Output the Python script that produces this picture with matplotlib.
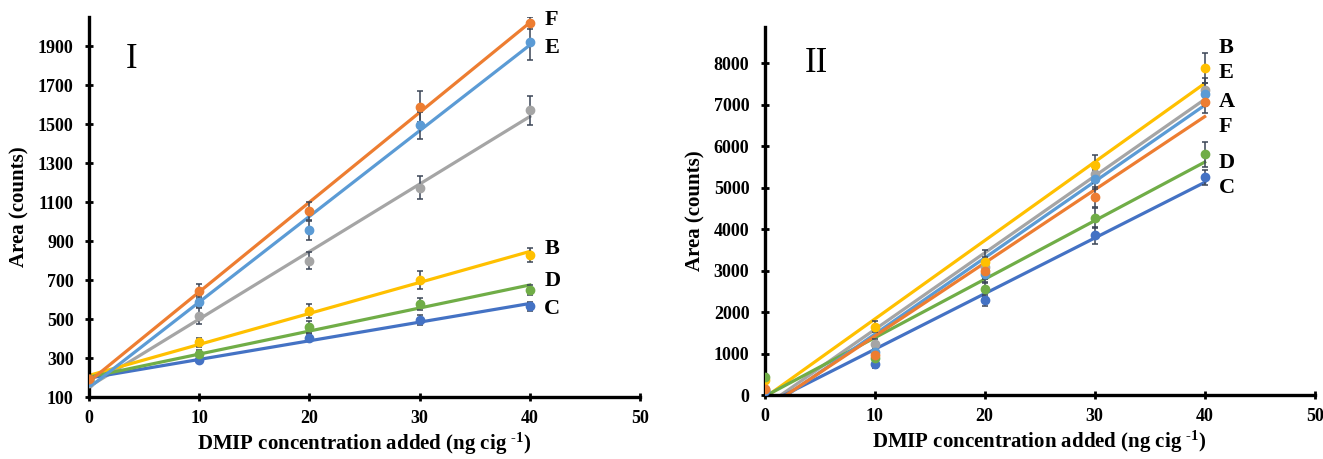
import numpy as np
import matplotlib
matplotlib.use("Agg")
import matplotlib.pyplot as plt

plt.rcParams["font.family"] = "Liberation Serif"
plt.rcParams["mathtext.fontset"] = "custom"
plt.rcParams["mathtext.rm"] = "Liberation Serif:bold"
plt.rcParams["mathtext.bf"] = "Liberation Serif:bold"
plt.rcParams["mathtext.default"] = "bf"

# DMIP added (ng cig-1)
conc = [0, 10, 20, 30, 40]
series = ["A", "B", "C", "D", "E", "F"]
colors = {"A": "#A5A5A5", "B": "#FFC000", "C": "#4472C4",
          "D": "#70AD47", "E": "#5B9BD5", "F": "#ED7D31"}

# panel I values
area_1 = {
    "A": [170, 515, 800, 1175, 1572],
    "B": [195, 380, 540, 700, 830],
    "C": [190, 288, 405, 495, 565],
    "D": [185, 322, 460, 578, 648],
    "E": [175, 590, 955, 1495, 1920],
    "F": [190, 645, 1055, 1590, 2020],
}
err_1 = {
    "A": [10, 40, 45, 60, 75],
    "B": [10, 25, 35, 45, 35],
    "C": [10, 15, 20, 25, 25],
    "D": [10, 20, 30, 30, 25],
    "E": [10, 30, 50, 70, 90],
    "F": [10, 35, 45, 80, 30],
}

# panel II values
area_2 = {
    "A": [150, 1240, 3080, 5330, 7350],
    "B": [360, 1650, 3200, 5540, 7880],
    "C": [100, 740, 2290, 3850, 5250],
    "D": [440, 900, 2550, 4270, 5810],
    "E": [130, 1050, 2910, 5200, 7250],
    "F": [150, 960, 2990, 4770, 7060],
}
err_2 = {
    "A": [60, 120, 250, 220, 300],
    "B": [60, 130, 300, 250, 360],
    "C": [50, 90, 130, 200, 180],
    "D": [60, 100, 180, 230, 300],
    "E": [60, 110, 200, 220, 280],
    "F": [60, 100, 200, 240, 260],
}

# end labels
labels_1 = {"F": 2033, "E": 1890, "B": 860, "D": 695, "C": 550}
labels_2 = {"B": 8360, "E": 7760, "A": 7060, "F": 6460, "D": 5590, "C": 4990}

fig = plt.figure(figsize=(13.23, 4.59), dpi=100)
ax1 = fig.add_axes([0.0673, 0.135, 0.4165, 0.828])
ax2 = fig.add_axes([0.578, 0.139, 0.4157, 0.802])


def draw(ax, area, err, labels, ylim, yticks, tag, tag_xy):
    x = np.array(conc)
    for s in series:
        y = np.array(area[s])
        k, b = np.polyfit(x, y, 1)
        xf = np.array([0, 40])
        ax.plot(xf, k * xf + b, color=colors[s], lw=2.3, zorder=2)
        ax.errorbar(x, y, yerr=err[s], fmt="o", color=colors[s], ms=6,
                    ecolor="#3B4556", elinewidth=1.1, capsize=2.5,
                    capthick=1.1, zorder=3)
    for s, yv in labels.items():
        ax.text(41.3, yv, s, fontsize=16, fontweight="bold", va="center")
    ax.text(tag_xy[0], tag_xy[1], tag, fontsize=25, va="center")
    ax.set_xlim(0, 50)
    ax.set_ylim(*ylim)
    ax.set_xticks([0, 10, 20, 30, 40, 50])
    ax.set_yticks(yticks)
    for sp in ["top", "right"]:
        ax.spines[sp].set_visible(False)
    for sp in ["left", "bottom"]:
        ax.spines[sp].set_linewidth(2.4)
    ax.tick_params(direction="inout", length=6, width=2, labelsize=13)
    ax.tick_params(axis="y", pad=8)
    ax.tick_params(axis="x", pad=6)
    for lab in ax.get_xticklabels() + ax.get_yticklabels():
        lab.set_fontweight("bold")
    ax.set_xlabel(r"DMIP concentration added (ng cig $^{\text{-}1}$)", fontsize=15,
                  fontweight="bold", labelpad=3)
    ax.set_ylabel("Area (counts)", fontsize=15, fontweight="bold", labelpad=6)


draw(ax1, area_1, err_1, labels_1, (100, 2050), range(100, 2000, 200), "I", (3.3, 1830))
draw(ax2, area_2, err_2, labels_2, (0, 8870), range(0, 9000, 1000), "II", (3.6, 8000))

fig.savefig("out.png", dpi=100)
